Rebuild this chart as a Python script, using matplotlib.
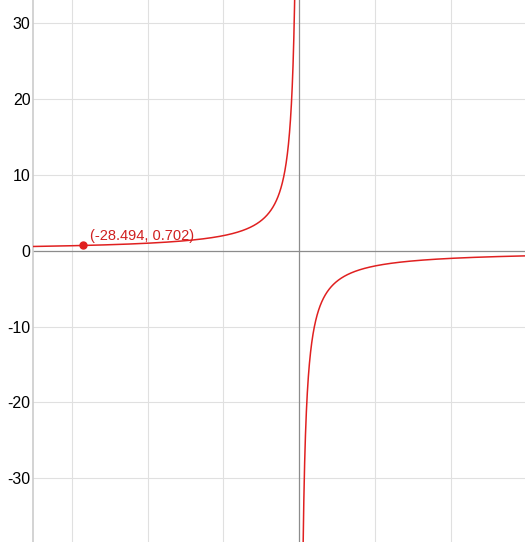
import numpy as np
import matplotlib
matplotlib.use("Agg")
import matplotlib.pyplot as plt

# Function y = k / x (read from the labelled point)
k = -20.0
point_x = -28.494
point_y = 0.702
point_label = "(-28.494, 0.702)"
yticks = [-30, -20, -10, 0, 10, 20, 30]
xgrid = [-30, -20, -10, 0, 10, 20]

W, H = 525, 542
fig = plt.figure(figsize=(W / 100, H / 100), dpi=100)
left = 33.3 / W
ax = fig.add_axes([left, 0, 1 - left, 1])
ax.set_xlim(-35.1, 29.8)
ax.set_ylim(-38.4, 33.07)

for gx in xgrid:
    if gx != 0:
        ax.axvline(gx, color="#e0e0e0", lw=0.8, zorder=0)
for gy in yticks:
    if gy != 0:
        ax.axhline(gy, color="#e0e0e0", lw=0.8, zorder=0)
ax.axvline(0, color="#8c8c8c", lw=0.9, zorder=1)
ax.axhline(0, color="#8c8c8c", lw=0.9, zorder=1)

xl = np.linspace(-36, -0.3, 2000)
xr = np.linspace(0.3, 31, 2000)
ax.plot(xl, k / xl, color="#e02020", lw=1.1, zorder=3)
ax.plot(xr, k / xr, color="#e02020", lw=1.1, zorder=3)

ax.plot([point_x], [point_y], "o", color="#e02020", ms=5, zorder=4)
ax.annotate(point_label, (point_x, point_y), xytext=(5, 1.5), textcoords="offset points",
            color="#d02020", fontsize=10.5, fontfamily="Liberation Sans", va="bottom", ha="left")

ax.set_yticks(yticks)
ax.set_yticklabels([str(t) for t in yticks], fontsize=11.5, fontfamily="Liberation Sans")
ax.tick_params(axis="y", length=0, pad=2)
ax.set_xticks([])
for s in ["top", "right", "bottom"]:
    ax.spines[s].set_visible(False)
ax.spines["left"].set_color("#cccccc")
ax.spines["left"].set_linewidth(1.2)

fig.savefig("out.png", dpi=100)
